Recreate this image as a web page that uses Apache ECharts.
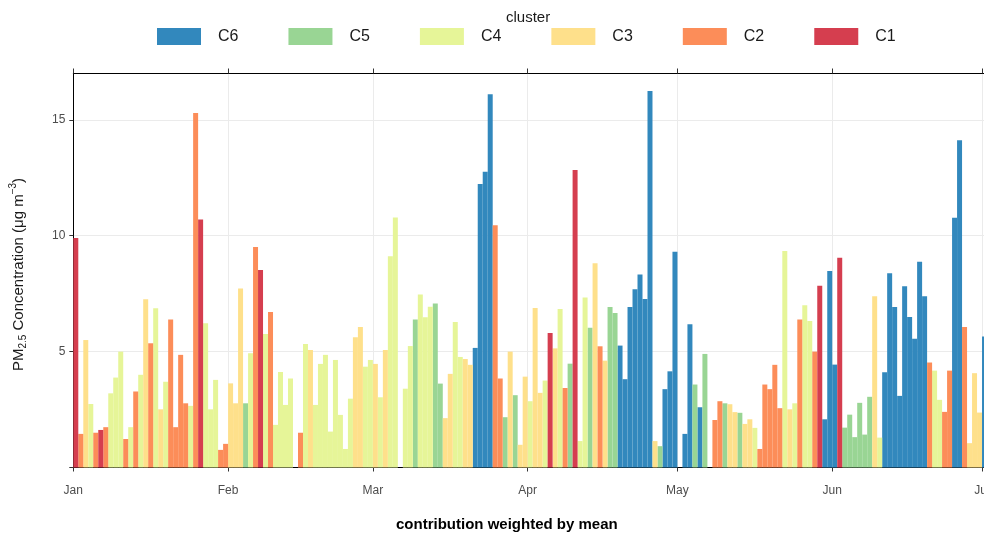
<!DOCTYPE html>
<html><head><meta charset="utf-8">
<script src="https://cdn.jsdelivr.net/npm/echarts@6/dist/echarts.min.js"></script>
<style>html,body{margin:0;padding:0;background:#fff}#c{width:984px;height:534px}</style>
</head><body><div id="c"></div>
<script>
// cluster legend order and colours
const clusterNames = ['C6','C5','C4','C3','C2','C1'];
const clusterColors = ['#3288BD','#99D594','#E6F598','#FEE08B','#FC8D59','#D53E4F'];
const monthLabels = ['Jan','Feb','Mar','Apr','May','Jun','Jul','Aug','Sep','Oct','Nov','Dec'];
const yTickValues = [0,5,10,15];
const yLabelValues = [5,10,15];

// daily PM2.5 contribution (μg m-3) and its cluster, by month (2024)
const janVal = [9.9,1.45,5.5,2.74,1.5,1.62,1.74,3.2,3.88,5.0,1.23,1.74,3.28,4.0,7.26,5.36,6.87,2.51,3.7,6.39,1.74,4.86,2.77,2.66,15.3,10.7,6.22,2.51,3.78,0.76,1.02];
const janCl  = ['C1','C2','C3','C4','C2','C1','C2','C4','C4','C4','C2','C4','C2','C4','C3','C2','C4','C3','C4','C2','C2','C2','C2','C4','C2','C1','C4','C4','C4','C2','C2'];
const febVal = [3.63,2.77,7.72,2.77,4.93,9.51,8.52,5.76,6.71,1.84,4.12,2.7,3.84,null,1.5,5.33,5.07,2.7,4.47,4.86,1.55,4.64,2.27,0.8,2.97,5.62,6.06,4.35,4.64];
const febCl  = ['C3','C3','C3','C5','C4','C2','C1','C4','C2','C4','C4','C4','C4',null,'C2','C4','C3','C4','C4','C4','C4','C4','C4','C4','C4','C3','C3','C4','C4'];
const marVal = [4.47,3.03,5.07,9.12,10.79,null,3.4,5.24,6.39,7.46,6.48,6.94,7.08,3.62,2.13,4.04,6.28,4.77,4.68,4.43,5.16,12.23,12.76,16.1,10.45,3.84,2.17,5.0,3.12,0.98,3.92];
const marCl  = ['C3','C4','C3','C4','C4',null,'C4','C4','C5','C4','C4','C4','C5','C5','C3','C3','C4','C4','C3','C3','C6','C6','C6','C6','C2','C2','C5','C3','C5','C3','C3'];
const aprVal = [2.86,6.88,3.22,3.75,5.8,5.14,6.84,3.43,4.48,12.84,1.14,7.34,6.03,8.81,5.23,4.61,6.93,6.67,5.26,3.81,6.93,7.69,8.33,7.27,16.25,1.14,0.92,3.38,4.15,9.31];
const aprCl  = ['C4','C3','C3','C4','C1','C3','C4','C2','C5','C1','C4','C4','C5','C3','C2','C3','C5','C5','C6','C6','C6','C6','C6','C6','C6','C3','C5','C6','C6','C6'];
const mayVal = [null,1.45,6.18,3.58,2.6,4.9,null,2.05,2.86,2.77,2.73,2.39,2.36,1.88,2.08,1.71,0.8,3.58,3.38,4.43,2.56,9.34,2.51,2.77,6.39,7.0,6.32,5.0,7.84,2.08,8.48];
const mayCl  = [null,'C6','C6','C5','C6','C5',null,'C2','C2','C5','C3','C3','C5','C3','C3','C4','C2','C2','C2','C2','C2','C4','C3','C4','C2','C4','C4','C2','C1','C6','C6'];
const junVal = [4.44,9.05,1.72,2.28,1.31,2.79,1.42,3.05,7.39,1.29,4.11,8.38,6.93,3.09,7.82,6.49,5.56,8.88,7.39,4.53,4.18,2.92,2.4,4.18,10.78,14.12,6.06,1.05,4.07,2.37];
const junCl  = ['C6','C1','C5','C5','C5','C5','C5','C5','C3','C4','C6','C6','C6','C6','C6','C6','C6','C6','C6','C2','C4','C4','C2','C2','C6','C6','C2','C3','C3','C3'];
const julVal = [5.65,null];
const julCl  = ['C6',null];

const values = [].concat(janVal,febVal,marVal,aprVal,mayVal,junVal,julVal);
const clusters = [].concat(janCl,febCl,marCl,aprCl,mayCl,junCl,julCl);

// date categories, one per day from 1 Jan 2024
const dates = [];
for (let i = 0; i < values.length; i++) {
  const d = new Date(Date.UTC(2024,0,1 + i));
  dates.push(d.toISOString().slice(0,10));
}
const isMonthStart = (idx) => dates[idx] && dates[idx].slice(8,10) === '01';

const series = clusterNames.map((name, k) => ({
  name: name,
  type: 'bar',
  stack: 'all',
  barWidth: '100%',
  itemStyle: { color: clusterColors[k] },
  emphasis: { disabled: true },
  data: values.map((v, i) => clusters[i] === name ? v : null)
}));

const font = 'Liberation Sans, Arial, sans-serif';
const chart = echarts.init(document.getElementById('c'), null, { renderer: 'canvas' });
chart.setOption({
  animation: false,
  backgroundColor: '#ffffff',
  textStyle: { fontFamily: font },
  grid: { left: 73.3, top: 73.5, width: dates.length * 4.993, bottom: 66.5, containLabel: false, outerBoundsMode: 'none' },
  legend: {
    data: clusterNames,
    left: 157, top: 28,
    padding: 0,
    icon: 'rect',
    itemWidth: 44, itemHeight: 17,
    itemGap: 50,
    selectedMode: false,
    textStyle: { fontFamily: font, fontSize: 16, color: '#1a1a1a', padding: [0,0,0,12] }
  },
  xAxis: [{
    type: 'category',
    data: dates,
    boundaryGap: true,
    axisLine: { show: true, lineStyle: { color: '#000', width: 1 } },
    axisTick: { show: true, interval: (i) => isMonthStart(i), length: 4, lineStyle: { color: '#333' } },
    axisLabel: {
      interval: (i) => isMonthStart(i),
      formatter: (v) => monthLabels[parseInt(v.slice(5,7),10) - 1],
      color: '#4d4d4d', fontSize: 12, fontFamily: font, margin: 17, padding: [0,5,0,0]
    },
    splitLine: { show: true, interval: (i) => isMonthStart(i), lineStyle: { color: '#ebebeb', width: 1 } }
  }, {
    type: 'category',
    data: dates,
    position: 'top',
    boundaryGap: true,
    axisLine: { show: true, lineStyle: { color: '#000', width: 1 } },
    axisTick: { show: true, interval: (i) => isMonthStart(i), length: 5, lineStyle: { color: '#333' } },
    axisLabel: { show: false },
    splitLine: { show: false }
  }],
  yAxis: {
    type: 'value',
    min: 0, max: 17, interval: 5,
    axisLine: { show: true, lineStyle: { color: '#000', width: 1 } },
    axisTick: { show: true, length: 4, customValues: yTickValues, lineStyle: { color: '#333' } },
    axisLabel: { customValues: yLabelValues, color: '#4d4d4d', fontSize: 12, fontFamily: font, margin: 8 },
    splitLine: { show: true, lineStyle: { color: '#ebebeb', width: 1 } },
    name: '{n|PM}{sub|2.5}{n| Concentration (μg m}{sup|−3}{n|)}',
    nameLocation: 'middle',
    nameRotate: 90,
    nameGap: 44,
    nameTextStyle: {
      fontFamily: font, fontSize: 15, color: '#1a1a1a', padding: [0,8,0,0],
      rich: {
        n: { fontFamily: font, fontSize: 15, color: '#1a1a1a' },
        sub: { fontFamily: font, fontSize: 10, color: '#1a1a1a', padding: [9,0,0,0] },
        sup: { fontFamily: font, fontSize: 10, color: '#1a1a1a', padding: [0,0,11,0] }
      }
    }
  },
  graphic: [
    { type: 'text', left: 506, top: 10, style: { text: 'cluster', font: '15px ' + font, fill: '#1a1a1a' } },
    { type: 'text', left: 396, top: 517, style: { text: 'contribution weighted by mean', font: 'bold 15px ' + font, fill: '#000' } }
  ],
  series: series
});
</script></body></html>
